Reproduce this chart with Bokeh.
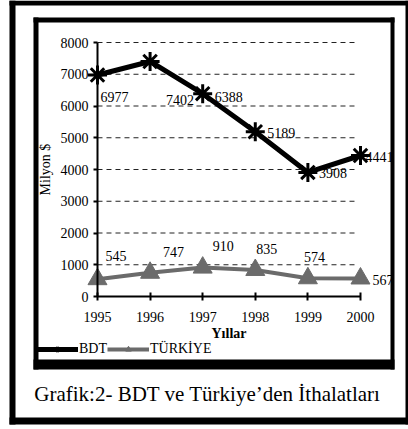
from bokeh.plotting import figure
from bokeh.models import (ColumnDataSource, FixedTicker, BoxAnnotation, Label,
                          Legend, LegendItem, Range1d)
from bokeh.embed import file_html
from bokeh.resources import INLINE
from bokeh.core.properties import value

# ---- data ----
years = [1995, 1996, 1997, 1998, 1999, 2000]
bdt = [6977, 7402, 6388, 5189, 3908, 4441]
turkiye = [545, 747, 910, 835, 574, 567]
y_ticks = [0, 1000, 2000, 3000, 4000, 5000, 6000, 7000, 8000]
series_names = ["BDT", "TÜRKİYE"]
x_title = "Yıllar"
y_title = "Milyon $"
caption = "Grafik:2- BDT ve Türkiye’den İthalatları"

# label placement offsets in screen px (+x right, +y down), as in the original
bdt_dx = [3, 16, 12, 12, 11, 5]
bdt_dy = [22, 39, 3, 1, 1, 1]
tr_dx = [8, 13, 10, 1, -4, 12]
tr_dy = [-23, -21, -22, -21, -21, 2]

FONT = "Liberation Serif"
GRAY = "#6b6b6b"
W, H = 408, 429

src_b = ColumnDataSource(dict(x=years, y=bdt, t=[str(v) for v in bdt], dx=bdt_dx, dy=bdt_dy))
src_t = ColumnDataSource(dict(x=years, y=turkiye, t=[str(v) for v in turkiye], dx=tr_dx, dy=tr_dy))

p = figure(width=W, height=H, output_backend="svg", toolbar_location=None,
           x_range=Range1d(1993.156, 2000.913), y_range=Range1d(-4189, 9323),
           min_border_left=0, min_border_right=0, min_border_top=0, min_border_bottom=0,
           background_fill_color="white", border_fill_color="white", outline_line_color=None)
p.xgrid.visible = False
p.ygrid.visible = False

# dashed grid lines
grid_vals = y_ticks[1:]
n = len(grid_vals)
p.segment(x0=[years[0]] * n, x1=[years[-1] - 0.08] * n, y0=grid_vals, y1=grid_vals,
          line_color="#222222", line_width=1, line_dash="5 4")

# axes
xa = p.xaxis[0]
xa.fixed_location = y_ticks[0]
xa.ticker = FixedTicker(ticks=years)
xa.bounds = (years[0], years[-1])
xa.axis_line_width = 2
xa.axis_line_color = "black"
xa.major_tick_in = 4
xa.major_tick_out = 4
xa.major_tick_line_width = 2
xa.minor_tick_line_color = None
xa.major_label_text_font = FONT
xa.major_label_text_font_size = "14px"
xa.major_label_text_color = "black"
xa.major_label_standoff = 11
xa.axis_label = x_title
xa.axis_label_text_font = FONT
xa.axis_label_text_font_size = "14px"
xa.axis_label_text_font_style = "bold"
xa.axis_label_text_color = "black"
xa.axis_label_standoff = 1

ya = p.yaxis[0]
ya.fixed_location = years[0]
ya.ticker = FixedTicker(ticks=y_ticks)
ya.bounds = (y_ticks[0], y_ticks[-1])
ya.axis_line_width = 2
ya.axis_line_color = "black"
ya.major_tick_in = 0
ya.major_tick_out = 4
ya.major_tick_line_width = 2
ya.minor_tick_line_color = None
ya.major_label_text_font = FONT
ya.major_label_text_font_size = "14px"
ya.major_label_text_color = "black"
ya.major_label_standoff = 5
ya.axis_label = y_title
ya.axis_label_text_font = FONT
ya.axis_label_text_font_size = "14px"
ya.axis_label_text_font_style = "normal"
ya.axis_label_text_color = "black"
ya.axis_label_standoff = 5

# series
l_t = p.line("x", "y", source=src_t, line_color=GRAY, line_width=4)
s_t = p.scatter("x", "y", source=src_t, marker="triangle", size=19,
                fill_color=GRAY, line_color=GRAY)
l_b = p.line("x", "y", source=src_b, line_color="black", line_width=5)
s_b = p.scatter("x", "y", source=src_b, marker="asterisk", size=19,
                line_color="black", line_width=3)

# data labels
for src in (src_b, src_t):
    p.text("x", "y", text="t", source=src, x_offset="dx", y_offset="dy",
           text_font=value(FONT), text_font_size="14px", text_color="black",
           text_align="left", text_baseline="middle")

# legend
legend = Legend(items=[LegendItem(label=series_names[0], renderers=[l_b, s_b]),
                       LegendItem(label=series_names[1], renderers=[l_t, s_t])],
                location=(36, 72), orientation="horizontal",
                border_line_color=None, background_fill_alpha=0,
                padding=0, margin=0, spacing=0, glyph_width=42, glyph_height=14,
                label_standoff=1, label_text_font=FONT, label_text_font_size="14px",
                label_text_color="black")
p.add_layout(legend, "center")

# frames (canvas px, y measured from the top)
def band(l, r, top, bot):
    p.add_layout(BoxAnnotation(left=l, right=r, top=top, bottom=bot,
                               left_units="canvas", right_units="canvas",
                               top_units="canvas", bottom_units="canvas",
                               fill_color="black", fill_alpha=1, line_color=None,
                               level="overlay"))

# outer frame
band(9, 15, 0, 424)
band(405, 408, 0, 424)
band(9, 408, 0, 5)
band(9, 408, 417, 424)
# inner frame
band(33, 38, 17, 369)
band(390, 394, 17, 369)
band(33, 394, 17, 22)
band(33, 394, 359, 369)

# caption
p.add_layout(Label(x=207, y=393, x_units="canvas", y_units="canvas", text=caption,
                   text_font=FONT, text_font_size="21px", text_color="black",
                   text_align="center", text_baseline="alphabetic"))

open("out.html", "w").write(file_html(p, INLINE))
